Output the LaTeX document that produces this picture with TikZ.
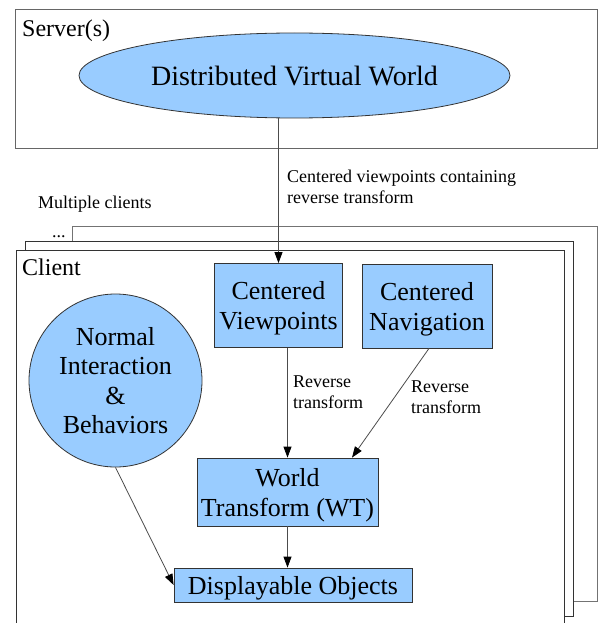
\documentclass[tikz,border=0pt]{standalone}
\usepackage{fontspec}
\setmainfont{Liberation Serif}
\usetikzlibrary{arrows.meta,shapes.geometric,calc}
\definecolor{nodefill}{HTML}{99CCFF}
\definecolor{edge}{HTML}{333333}
\begin{document}
\begin{tikzpicture}[x=1pt,y=-1pt,
  frame/.style={draw=#1, line width=1pt, fill=white},
  blockbox/.style={draw=edge, fill=nodefill, line width=0.8pt, rectangle,
    inner sep=0pt, align=center, text depth=0pt,
    font=\fontsize{26}{30}\selectfont},
  link/.style={draw=black!70, line width=0.8pt,
    -{Triangle[length=11pt,width=8pt,fill=black,color=black]}},
  note/.style={anchor=base west, align=left, inner sep=0pt,
    font=\fontsize{18}{21}\selectfont},
  heading/.style={anchor=base west, inner sep=0pt,
    font=\fontsize{24}{28}\selectfont}]

\useasboundingbox (0,0) rectangle (600,623);

% server frame
\draw[frame=black!60] (15,10) rectangle (597,148);
\node[heading] (srvlabel) at (22,37) {Server(s)};

% stacked client frames
\draw[frame=black!55] (72,226) rectangle (597,601);
\draw[frame=edge] (25,241) rectangle (573,616);
\draw[frame=edge] (16,640) -- (16,250) -- (564,250) -- (564,640);
\node[heading] (clientlabel) at (22,275) {Client};
\node[note] (multi) at (38,208) {Multiple clients};
\node[note] (dots) at (52,237) {...};

% nodes
\node[draw=edge, fill=nodefill, ellipse, line width=0.8pt, inner sep=0pt,
  minimum width=431pt, minimum height=85pt,
  font=\fontsize{28}{32}\selectfont] (dvw) at (294.5,75.5) {Distributed Virtual World};
\node[blockbox, minimum width=128pt, minimum height=84pt] (vp) at (278.5,305.5) {Centered\\Viewpoints};
\node[blockbox, minimum width=130pt, minimum height=84pt] (nav) at (427,306) {Centered\\Navigation};
\node[blockbox, minimum width=181pt, minimum height=68pt] (wt) at (287.5,492) {World\\Transform (WT)};
\node[blockbox, minimum width=238pt, minimum height=34pt] (dobj) at (293,585) {Displayable Objects};
\node[blockbox, circle, minimum size=173pt, font=\fontsize{26}{29.5}\selectfont] (nib) at (115.5,380.5) {Normal\\Interaction\\\&\\Behaviors};

% connectors
\draw[link] (dvw.south -| vp.north) -- (vp.north);
\draw[link] (vp.south -| wt.north) -- (wt.north);
\draw[link] ([xshift=2pt]nav.south) -- ([xshift=64.5pt]wt.north);
\draw[link] (wt.south) -- (dobj.north -| wt.south);
\draw[link] (nib.south) -- (dobj.west);

% connector labels (positioned by the baseline of their last line)
\node[note] (cvlabel) at (287,203) {Centered viewpoints containing\\reverse transform};
\node[note] (rt1) at (293,408) {Reverse\\transform};
\node[note] (rt2) at (411,413) {Reverse\\transform};
\end{tikzpicture}
\end{document}
